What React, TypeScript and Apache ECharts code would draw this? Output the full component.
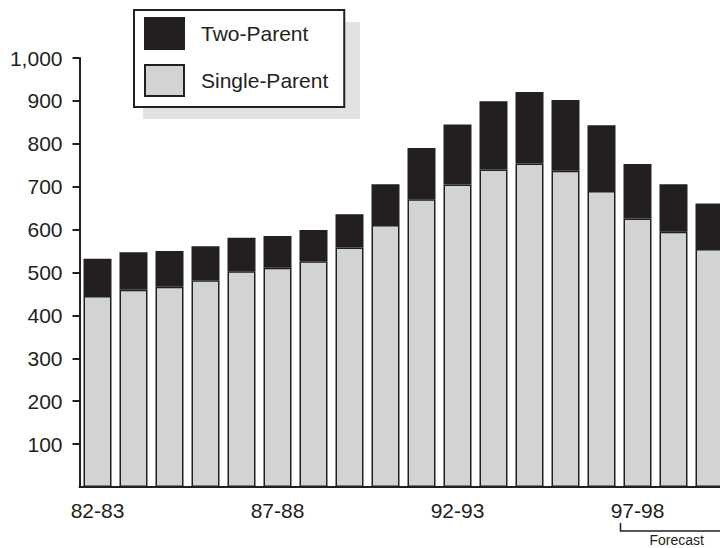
import React, { useEffect, useRef } from "react";
import * as echarts from "echarts";

// School years, 1982-83 through 1999-00
const categories = [
  "82-83", "83-84", "84-85", "85-86", "86-87", "87-88", "88-89", "89-90", "90-91",
  "91-92", "92-93", "93-94", "94-95", "95-96", "96-97", "97-98", "98-99", "99-00",
];

// Caseload (thousands) by family type
const singleParent = [445, 460, 467, 482, 503, 511, 526, 558, 611, 671, 705, 740, 754, 737, 690, 626, 595, 555];
const twoParent = [87, 87, 83, 79, 78, 74, 73, 78, 95, 119, 140, 159, 167, 165, 153, 127, 111, 106];

const yTickValues = [100, 200, 300, 400, 500, 600, 700, 800, 900, 1000];
const forecastFrom = "97-98";

const INK = "#231f20";
const GREY = "#d1d3d4";
const FONT = "'Liberation Sans', Arial, Helvetica, sans-serif";

export default function App() {
  const ref = useRef<HTMLDivElement>(null);

  useEffect(() => {
    if (!ref.current) return;
    const chart = echarts.init(ref.current, null, { renderer: "svg" });

    const bandWidth = 36;
    const gridLeft = 79.5;

    chart.setOption({
      animation: false,
      backgroundColor: "#ffffff",
      textStyle: { fontFamily: FONT, color: INK },
      grid: {
        left: gridLeft,
        top: 58,
        width: bandWidth * categories.length,
        height: 429,
        containLabel: false,
        outerBoundsMode: "none",
      },
      legend: {
        orient: "vertical",
        left: 134,
        top: 10,
        data: ["Two-Parent", "Single-Parent"],
        icon: "rect",
        itemWidth: 39,
        itemHeight: 31,
        itemGap: 14,
        padding: [7, 16, 10, 10],
        backgroundColor: "#ffffff",
        borderColor: INK,
        borderWidth: 2,
        borderRadius: 0,
        selectedMode: false,
        textStyle: {
          fontFamily: FONT,
          fontSize: 21,
          color: INK,
          padding: [0, 0, 0, 12],
        },
      },
      xAxis: {
        type: "category",
        data: categories,
        boundaryGap: true,
        axisLine: { show: true, lineStyle: { color: INK, width: 2 } },
        axisTick: { show: false },
        axisLabel: {
          interval: 4,
          margin: 13,
          fontFamily: FONT,
          fontSize: 21,
          color: INK,
        },
        splitLine: { show: false },
      },
      yAxis: {
        type: "value",
        min: 0,
        max: 1000,
        interval: 100,
        axisLine: { show: true, lineStyle: { color: INK, width: 2 } },
        axisTick: {
          show: true,
          length: 7,
          customValues: yTickValues,
          lineStyle: { color: INK, width: 2 },
        },
        axisLabel: {
          margin: 17,
          fontFamily: FONT,
          fontSize: 21,
          color: INK,
          customValues: yTickValues,
          formatter: (v: number) => v.toLocaleString("en-US"),
        },
        splitLine: { show: false },
      },
      series: [
        {
          name: "Single-Parent",
          type: "bar",
          stack: "cases",
          data: singleParent,
          barWidth: 28,
          itemStyle: { color: GREY, borderColor: INK, borderWidth: 1.5 },
        },
        {
          name: "Two-Parent",
          type: "bar",
          stack: "cases",
          data: twoParent,
          barWidth: 28,
          itemStyle: { color: INK, borderColor: INK, borderWidth: 1.5 },
        },
      ],
    });

    // Legend drop shadow and the forecast bracket under the axis
    const centre = chart.convertToPixel({ xAxisIndex: 0 }, forecastFrom) as number;
    const bx = centre - bandWidth / 2 + 1;
    chart.setOption({
      graphic: [
        {
          type: "rect",
          z: -1,
          silent: true,
          shape: { x: 143, y: 22, width: 217, height: 97 },
          style: { fill: "#e1e2e3" },
        },
        {
          type: "polyline",
          silent: true,
          shape: { points: [[bx, 523], [bx, 531], [760, 531]] },
          style: { stroke: INK, lineWidth: 1.5, fill: "none" },
        },
        {
          type: "text",
          silent: true,
          x: bx + 29,
          y: 547,
          style: {
            text: "Forecast",
            font: `14px ${FONT}`,
            fill: INK,
            textAlign: "left",
            textVerticalAlign: "bottom",
          },
        },
      ],
    });

    return () => chart.dispose();
  }, []);

  return (
    <div
      ref={ref}
      style={{ position: "fixed", left: 0, top: 0, width: 720, height: 548, overflow: "hidden" }}
    />
  );
}
